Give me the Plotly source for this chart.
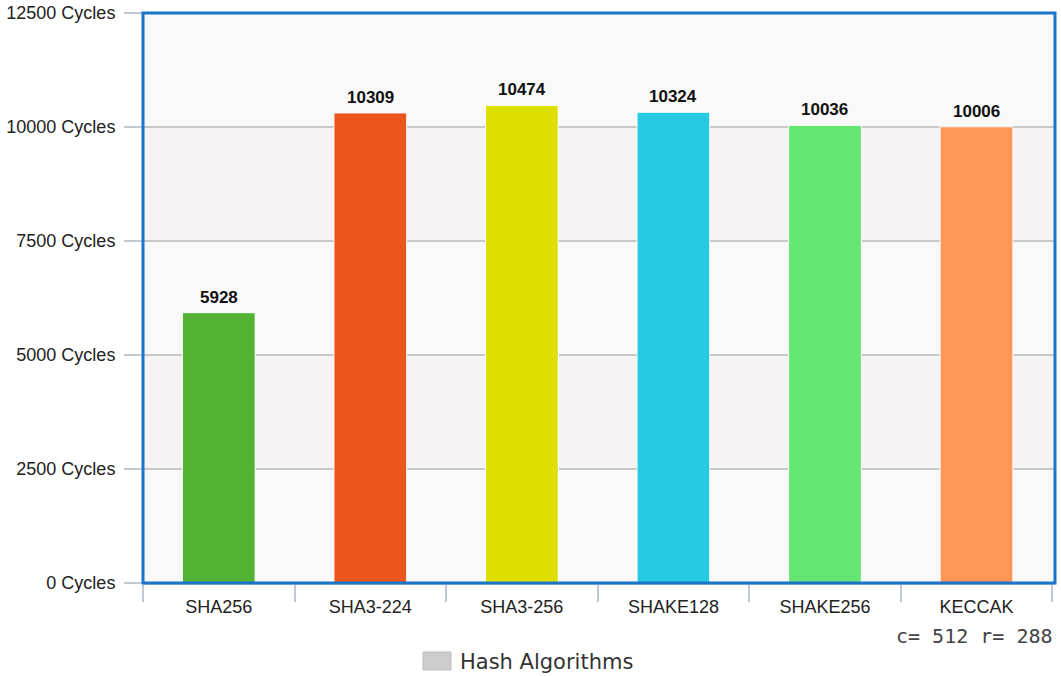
import plotly.graph_objects as go

categories = ["SHA256", "SHA3-224", "SHA3-256", "SHAKE128", "SHAKE256", "KECCAK"]
cycles = [5928, 10309, 10474, 10324, 10036, 10006]
bar_colors = ["#52b234", "#eb561c", "#dde000", "#26cbe3", "#65e672", "#ff9655"]
y_ticks = [0, 2500, 5000, 7500, 10000, 12500]
y_tick_labels = [f"{v} Cycles" for v in y_ticks]
legend_name = "Hash Algorithms"
keccak_note = "c= 512 r= 288"

fig = go.Figure()

fig.add_trace(go.Bar(
    x=categories, y=cycles,
    marker=dict(color=bar_colors, line=dict(color="white", width=1)),
    width=0.48,
    showlegend=False,
    hoverinfo="x+y",
))

# value labels
for c, v in zip(categories, cycles):
    fig.add_annotation(x=c, y=v, xref="x", yref="y", text=str(v), showarrow=False,
                       xanchor="center", yanchor="bottom", yshift=4,
                       font=dict(family="Liberation Sans, Arial", size=17,
                                 color="#111111", weight="bold"))

# alternating bands
for i in range(len(y_ticks) - 1):
    if i % 2 == 1:
        fig.add_shape(type="rect", xref="paper", yref="y",
                      x0=0, x1=1, y0=y_ticks[i], y1=y_ticks[i + 1],
                      fillcolor="#f5f3f4", line=dict(width=0), layer="below")

# plot-area border
fig.add_shape(type="rect", xref="paper", yref="paper", x0=0, x1=1, y0=0, y1=1,
              line=dict(color="#1a74c9", width=3), layer="above")

# KECCAK second line
fig.add_annotation(x=categories[-1], xref="x", y=-(622 - 583) / 570, yref="paper",
                   text=keccak_note, showarrow=False, xanchor="center", yanchor="top",
                   xshift=-2,
                   font=dict(family="DejaVu Sans Mono", size=20, color="#444444"))

# legend (drawn manually)
fig.add_shape(type="rect", xref="paper", yref="paper",
              x0=(423 - 143) / 912, x1=(451 - 143) / 912,
              y0=-(670 - 583) / 570, y1=-(652 - 583) / 570,
              fillcolor="#cccccc", line=dict(color="#bdbdbd", width=1))
fig.add_annotation(x=(458 - 143) / 912, xref="paper", y=-(662 - 583) / 570, yref="paper",
                   text=legend_name, showarrow=False, xanchor="left", yanchor="middle",
                   font=dict(family="DejaVu Sans", size=21, color="#333333"))

fig.update_layout(
    width=1061, height=676,
    margin=dict(l=143, r=6, t=13, b=93, autoexpand=False),
    paper_bgcolor="white",
    plot_bgcolor="#f9f9f9",
    font=dict(family="Liberation Sans, Arial", size=18, color="#222222"),
    showlegend=False,
    xaxis=dict(
        type="category", categoryorder="array", categoryarray=categories,
        showgrid=False, ticks="outside", tickson="boundaries", ticklen=17,
        tickcolor="#c0c8d0", tickwidth=2, showline=True, linecolor="#c0c8d0", linewidth=2,
        ticklabelstandoff=6,
        tickfont=dict(family="Liberation Sans, Arial", size=18, color="#222222"),
    ),
    yaxis=dict(
        range=[0, 12500], tickvals=y_ticks, ticktext=y_tick_labels,
        showgrid=True, gridcolor="#c8c8c8", gridwidth=2,
        ticks="outside", ticklen=18, tickcolor="#c0c8d0", tickwidth=2,
        zeroline=False, showline=False, ticklabelstandoff=5,
        tickfont=dict(family="Liberation Sans, Arial", size=18, color="#222222"),
    ),
)

fig.write_html("out.html")
